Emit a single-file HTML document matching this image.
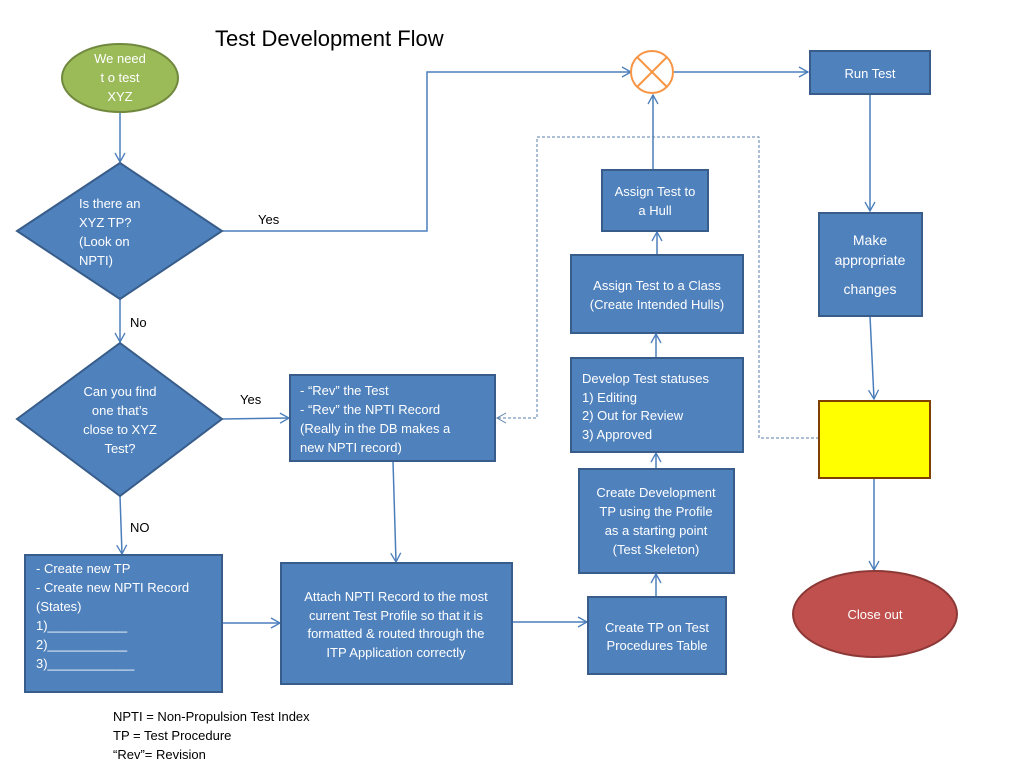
<!DOCTYPE html>
<html><head><meta charset="utf-8"><style>
html,body{margin:0;padding:0;background:#fff}
svg text{font-family:"Liberation Sans",sans-serif}
.w{fill:#fff;font-size:13px}
.k{fill:#000;font-size:13px}
</style></head><body>
<svg width="1024" height="768" viewBox="0 0 1024 768" xmlns="http://www.w3.org/2000/svg">
<defs>
<marker id="a" markerWidth="12" markerHeight="12" refX="10" refY="6" orient="auto" markerUnits="userSpaceOnUse">
<path d="M1,1 L10,6 L1,11" fill="none" stroke="#4a7ebb" stroke-width="1.3"/></marker>
<marker id="d" markerWidth="12" markerHeight="12" refX="10" refY="6" orient="auto" markerUnits="userSpaceOnUse">
<path d="M1,1 L10,6 L1,11" fill="none" stroke="#5a7fa8" stroke-width="1"/></marker>
</defs>
<text x="215" y="46" style="font-size:22px" fill="#000">Test Development Flow</text>

<g stroke="#4a7ebb" stroke-width="1.5" fill="none">
<line x1="120" y1="112" x2="120" y2="162" marker-end="url(#a)"/>
<polyline points="222,231 427,231 427,72 631,72" marker-end="url(#a)"/>
<line x1="120" y1="299" x2="120" y2="342" marker-end="url(#a)"/>
<line x1="222" y1="419" x2="289" y2="418" marker-end="url(#a)"/>
<line x1="120" y1="496" x2="122" y2="554" marker-end="url(#a)"/>
<line x1="222" y1="623" x2="280" y2="623" marker-end="url(#a)"/>
<line x1="393" y1="461" x2="396" y2="562" marker-end="url(#a)"/>
<line x1="512" y1="622" x2="587" y2="622" marker-end="url(#a)"/>
<line x1="656" y1="597" x2="656" y2="574" marker-end="url(#a)"/>
<line x1="656" y1="469" x2="656" y2="453" marker-end="url(#a)"/>
<line x1="656" y1="358" x2="656" y2="334" marker-end="url(#a)"/>
<line x1="657" y1="255" x2="657" y2="232" marker-end="url(#a)"/>
<line x1="653" y1="170" x2="653" y2="95" marker-end="url(#a)"/>
<line x1="674" y1="72" x2="808" y2="72" marker-end="url(#a)"/>
<line x1="870" y1="94" x2="870" y2="211" marker-end="url(#a)"/>
<line x1="870" y1="316" x2="874" y2="399" marker-end="url(#a)"/>
<line x1="874" y1="478" x2="874" y2="570" marker-end="url(#a)"/>
</g>
<polyline points="819,438 759,438 759,137 537,137 537,418 497,418" fill="none" stroke="#5a7fa8" stroke-width="1" stroke-dasharray="3,2" marker-end="url(#d)"/>

<ellipse cx="120" cy="78" rx="58" ry="34" fill="#9bbb59" stroke="#71893f" stroke-width="2"/>
<g class="w" text-anchor="middle"><text x="120" y="63" class="w">We need</text><text x="120" y="82" class="w">t o test</text><text x="120" y="101" class="w">XYZ</text></g>

<g fill="#4f81bd" stroke="#385d8a" stroke-width="2">
<polygon points="120,163 222,231 120,299 17,231"/>
<polygon points="120,343 222,419 120,496 17,419"/>
<rect x="290" y="375" width="205" height="86"/>
<rect x="25" y="555" width="197" height="137"/>
<rect x="281" y="563" width="231" height="121"/>
<rect x="588" y="597" width="138" height="77"/>
<rect x="579" y="469" width="155" height="104"/>
<rect x="571" y="358" width="172" height="94"/>
<rect x="571" y="255" width="172" height="78"/>
<rect x="602" y="170" width="106" height="61"/>
<rect x="810" y="51" width="120" height="43"/>
<rect x="819" y="213" width="103" height="103"/>
</g>
<rect x="819" y="401" width="111" height="77" fill="#ffff00" stroke="#7f3f00" stroke-width="2"/>
<ellipse cx="875" cy="614" rx="82" ry="43" fill="#c0504d" stroke="#8c3836" stroke-width="2"/>
<circle cx="652" cy="72" r="21" fill="#fff" stroke="#f79646" stroke-width="2"/>
<line x1="637" y1="57" x2="667" y2="87" stroke="#f79646" stroke-width="2"/>
<line x1="667" y1="57" x2="637" y2="87" stroke="#f79646" stroke-width="2"/>

<text x="79" y="208" class="w">Is there an</text><text x="79" y="227" class="w">XYZ TP?</text><text x="79" y="246" class="w">(Look on</text><text x="79" y="265" class="w">NPTI)</text>
<g text-anchor="middle"><text x="120" y="396" class="w">Can you find</text><text x="120" y="415" class="w">one that’s</text><text x="120" y="434" class="w">close to XYZ</text><text x="120" y="453" class="w">Test?</text></g>
<text x="258" y="224" class="k">Yes</text><text x="130" y="327" class="k">No</text>
<text x="240" y="404" class="k">Yes</text><text x="130" y="532" class="k">NO</text>

<text x="300" y="395" class="w">-  “Rev” the Test</text><text x="300" y="414" class="w">-  “Rev” the NPTI Record</text><text x="300" y="433" class="w">(Really in the DB makes a</text><text x="300" y="452" class="w">new NPTI record)</text>

<text x="36" y="573" class="w"> - Create new  TP</text><text x="36" y="592" class="w">-  Create new NPTI Record</text><text x="36" y="611" class="w">(States)</text><text x="36" y="630" class="w">1)___________</text><text x="36" y="649" class="w">2)___________</text><text x="36" y="668" class="w">3)____________</text>

<g text-anchor="middle">
<text x="396" y="601" class="w">Attach NPTI Record  to the most</text><text x="396" y="620" class="w">current Test Profile so that it is</text><text x="396" y="638" class="w">formatted &amp; routed through the</text><text x="396" y="657" class="w">ITP Application correctly</text>
<text x="657" y="632" class="w">Create TP on Test</text><text x="657" y="650" class="w">Procedures Table</text>
<text x="656" y="497" class="w">Create Development</text><text x="656" y="516" class="w">TP using the Profile</text><text x="656" y="535" class="w">as a starting point</text><text x="656" y="554" class="w">(Test Skeleton)</text>
<text x="657" y="290" class="w">Assign Test to a Class</text><text x="657" y="309" class="w">(Create Intended Hulls)</text>
<text x="655" y="196" class="w">Assign Test to</text><text x="655" y="215" class="w">a Hull</text>
<text x="870" y="78" class="w">Run Test</text>
<text x="870" y="245" class="w" style="font-size:14px">Make</text><text x="870" y="265" class="w" style="font-size:14px">appropriate</text><text x="870" y="294" class="w" style="font-size:14px">changes</text>
<text x="875" y="619" class="w">Close out</text>
</g>
<text x="582" y="383" class="w">Develop Test statuses</text><text x="582" y="402" class="w">1)  Editing</text><text x="582" y="420" class="w">2)  Out for Review</text><text x="582" y="439" class="w">3)  Approved</text>

<text x="113" y="721" class="k">NPTI = Non-Propulsion Test Index</text>
<text x="113" y="740" class="k">TP     = Test Procedure</text>
<text x="113" y="759" class="k">“Rev”= Revision</text>
</svg>
</body></html>
